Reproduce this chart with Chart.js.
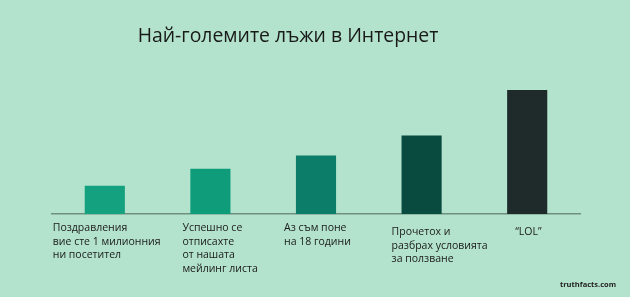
<!DOCTYPE html>
<html>
<head>
<meta charset="utf-8">
<script src="https://cdn.jsdelivr.net/npm/chart.js@4.4.1/dist/chart.umd.min.js"></script>
<style>
    html, body { margin: 0; padding: 0; background: #b3e3cc; }
    #wrap { width: 630px; height: 297px; }
</style>
</head>
<body>
<div id="wrap"><canvas id="liesChart" width="630" height="297"></canvas></div>
<script>
// Chart data
const chartTitle = 'Най-големите лъжи в Интернет';
const categories = [
    ['Поздравления', 'вие сте 1 милионния', 'ни посетител'],
    ['Успешно се', 'отписахте', 'от нашата', 'мейлинг листа'],
    ['Аз съм поне', 'на 18 години'],
    ['Прочетох и', 'разбрах условията', 'за ползване'],
    ['\u201CLOL\u201D']
];
const values = [28, 45, 58, 78, 123];
const barColors = ['#13a180', '#0f9c7b', '#0c7d68', '#0a4b40', '#1f2b2a'];
const sourceText = 'truthfacts.com';


/* Draws the title, the left-aligned category blocks and the source note
*/
const textPlugin = {
    id: 'liesText',
    afterDraw(chart, args, opts) {
        const ctx = chart.ctx;
        const xScale = chart.scales.x;
        ctx.save();

        // Title
        ctx.fillStyle = '#1a1a1a';
        ctx.font = '19.4px "Open Sans"';
        ctx.textAlign = 'center';
        ctx.textBaseline = 'alphabetic';
        ctx.fillText(chartTitle, opts.titleX, opts.titleY);

        // Category labels, block starts a bit left of each bar
        ctx.font = '10.5px "Open Sans"';
        ctx.textAlign = 'left';
        categories.forEach((lines, i) => {
            const left = xScale.getPixelForValue(i) + opts.shift[i];
            const top = opts.labelY + opts.drop[i];
            lines.forEach((line, j) => {
                ctx.fillText(line, left, top + j * opts.lineHeight);
            });
        });

        // Source
        ctx.font = 'bold 7.5px "Open Sans"';
        ctx.textAlign = 'right';
        ctx.fillStyle = '#222';
        ctx.fillText(sourceText, 616, 287);

        ctx.restore();
    }
};


const buildChart = () => {
    const data = {
        labels: categories,
        datasets: [{
            data: values,
            backgroundColor: barColors,
            borderWidth: 0,
            barPercentage: 0.38,
            categoryPercentage: 1
        }]
    };

    const config = {
        type: 'bar',
        data: data,
        options: {
            responsive: false,
            animation: false,
            layout: {
                padding: { top: 73, bottom: 75, left: 52, right: 50 }
            },
            plugins: {
                legend: { display: false },
                tooltip: { enabled: false },
                title: { display: false },
                liesText: {
                    titleX: 288,
                    titleY: 42,
                    labelY: 231,
                    lineHeight: 13.7,
                    shift: [-52, -28, -32, -30, -12],
                    drop: [0, 0, 0, 4, 4]
                }
            },
            scales: {
                x: {
                    grid: { display: false },
                    ticks: { display: false },
                    border: { display: true, color: '#6f8f80', width: 1.5 }
                },
                y: {
                    display: false,
                    min: 0,
                    max: 140
                }
            }
        },
        plugins: [textPlugin]
    };

    const ctx = document.getElementById('liesChart').getContext('2d');
    new Chart(ctx, config);
}

document.addEventListener('DOMContentLoaded', () => {
    buildChart();
});
</script>
</body>
</html>
